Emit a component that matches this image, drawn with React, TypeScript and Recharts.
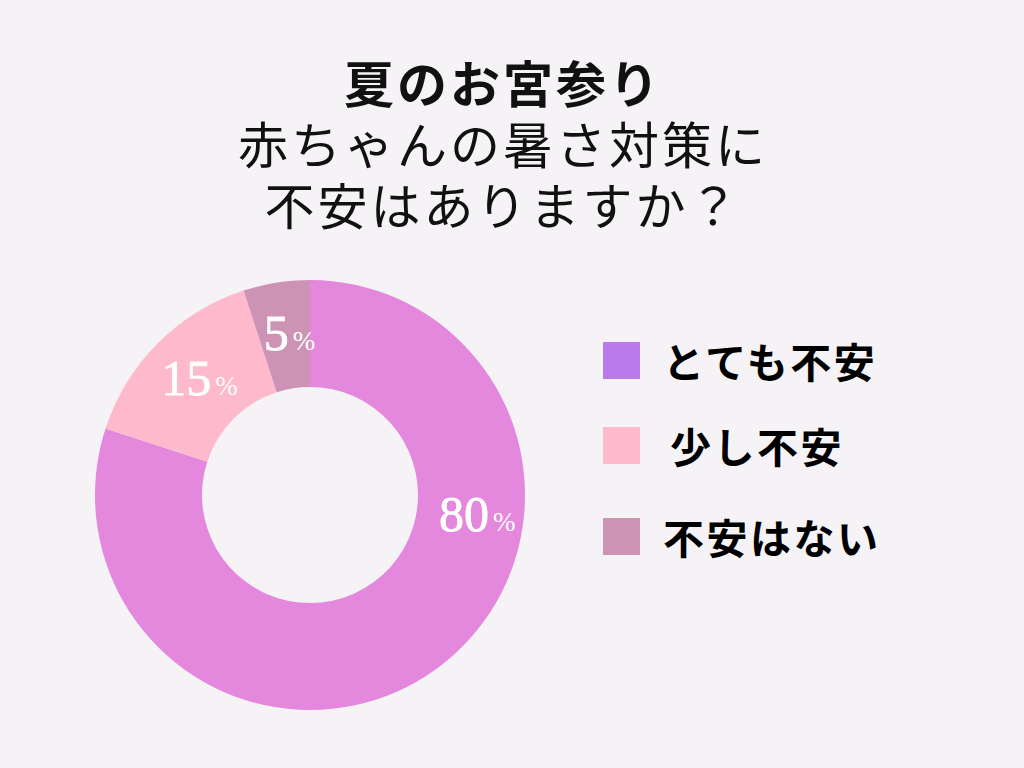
import React from 'react';
import { PieChart, Pie, Cell, Legend } from 'recharts';

// survey answers, clockwise from 12 o'clock
const categories = ['とても不安', '少し不安', '不安はない'];
const shares = [80, 15, 5];
const sliceColors = ['#e388dd', '#ffb9cc', '#cc93b4'];
// the legend swatch for the first answer is more purple than its slice
const legendColors = ['#b97aec', '#ffb9cc', '#cc93b4'];
const titleLines = ['夏のお宮参り', '赤ちゃんの暑さ対策に', '不安はありますか？'];

const chartData = categories.map((name, i) => ({ name, value: shares[i] }));

const RADIAN = Math.PI / 180;
const JP_FONT = "'Noto Sans CJK JP', 'Noto Sans', sans-serif";

// the big slice's label sits by the right edge, not at its mid angle
const labelAngleFor = (index: number, midAngle: number) => (index === 0 ? -7 : midAngle);

const renderLabel = (props: any) => {
  const { cx, cy, midAngle, innerRadius, outerRadius, index, value } = props;
  const angle = labelAngleFor(index, midAngle);
  const r = (innerRadius + outerRadius) / 2 + 2;
  const x = cx + r * Math.cos(-angle * RADIAN);
  const y = cy + r * Math.sin(-angle * RADIAN);
  return (
    <text
      x={x + 5}
      y={y + 16}
      textAnchor="middle"
      fill="#ffffff"
      fontFamily="'Liberation Serif', serif"
    >
      <tspan fontSize={50} stroke="#ffffff" strokeWidth={0.8}>{value}</tspan>
      <tspan fontSize={27} dx={4}>%</tspan>
    </text>
  );
};

const LegendBox = () => (
  <div style={{ fontFamily: JP_FONT }}>
    {categories.map((name, i) => (
      <div
        key={name}
        style={{ display: 'flex', alignItems: 'center', height: 37, marginBottom: i === 0 ? 48 : 54 }}
      >
        <div style={{ width: 37, height: 37, background: legendColors[i] }} />
        <span
          style={{
            marginLeft: i === 1 ? 30 : 23,
            fontSize: 41,
            fontWeight: 700,
            letterSpacing: 2.5,
            color: '#000',
            lineHeight: '37px',
          }}
        >
          {name}
        </span>
      </div>
    ))}
  </div>
);

const App: React.FC = () => {
  return (
    <div
      style={{
        position: 'absolute',
        left: 0,
        top: 0,
        width: 1024,
        height: 768,
        background: '#f5f3f6',
        overflow: 'hidden',
      }}
    >
      <div
        style={{
          position: 'absolute',
          left: 0,
          top: 51,
          width: 1006,
          textAlign: 'center',
          fontFamily: JP_FONT,
          fontSize: 50,
          letterSpacing: 3,
          lineHeight: '61px',
          color: '#111',
        }}
      >
        {titleLines.map((line, i) => (
          <div key={line} style={{ fontWeight: i === 0 ? 700 : 400 }}>
            {line}
          </div>
        ))}
      </div>

      <div style={{ position: 'absolute', left: 0, top: 0 }}>
        <PieChart width={1024} height={768} margin={{ top: 0, right: 0, bottom: 0, left: 0 }}>
          <Pie
            data={chartData}
            dataKey="value"
            nameKey="name"
            cx={310}
            cy={495}
            innerRadius={108}
            outerRadius={215}
            startAngle={90}
            endAngle={-270}
            stroke="none"
            labelLine={false}
            label={renderLabel}
            isAnimationActive={false}
          >
            {chartData.map((d, i) => (
              <Cell key={d.name} fill={sliceColors[i]} />
            ))}
          </Pie>
          <Legend
            layout="vertical"
            content={() => <LegendBox />}
            wrapperStyle={{ position: 'absolute', left: 603, top: 342, width: 400 }}
          />
        </PieChart>
      </div>
    </div>
  );
};

export default App;
